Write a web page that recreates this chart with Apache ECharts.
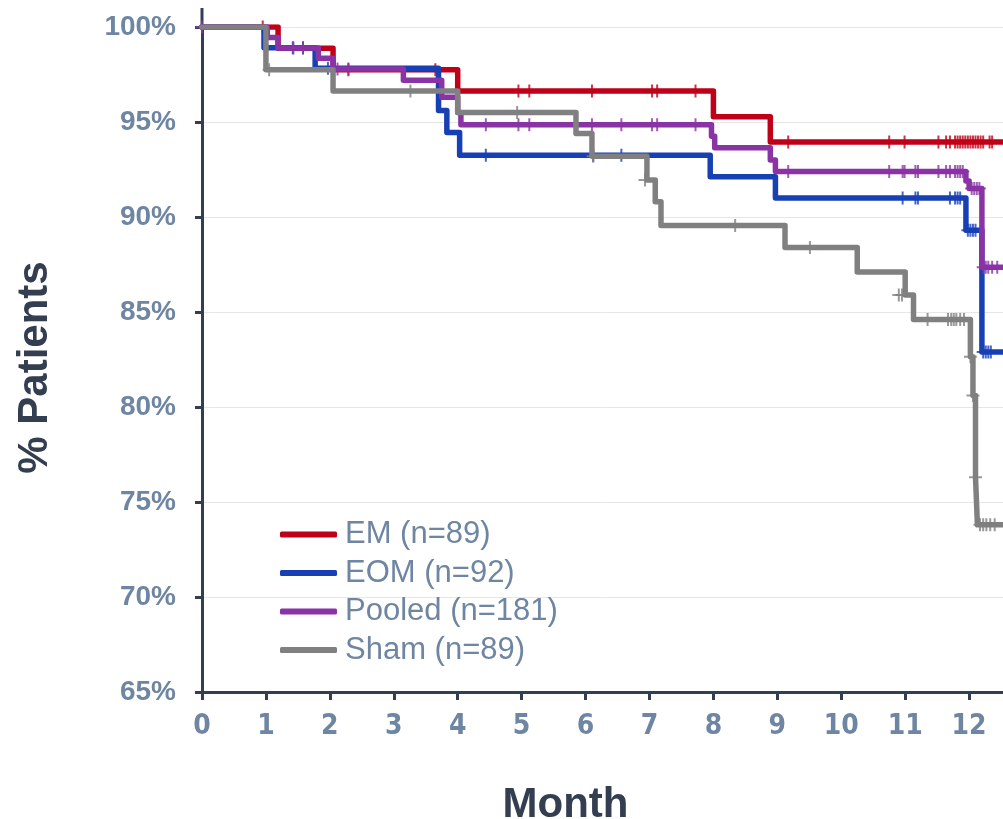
<!DOCTYPE html>
<html>
<head>
<meta charset="utf-8">
<script src="https://cdn.jsdelivr.net/npm/echarts@6/dist/echarts.min.js"></script>
<style>
  html, body { margin: 0; padding: 0; background: #fff; overflow: hidden; }
  #chart { width: 1003px; height: 819px; }
</style>
</head>
<body>
<div id="chart"></div>
<script>
// KM step points [month, % surviving]; value changes at the given month
const emSteps = [[0, 100], [1.19, 98.88], [2.05, 97.75], [4.0, 96.63], [8.0, 95.28], [8.89, 93.95], [12.53, 93.95]]
const eomSteps = [[0, 100], [0.97, 98.91], [1.77, 97.83], [3.70, 95.6], [3.83, 94.45], [4.03, 93.25], [7.95, 92.12], [8.97, 91.0], [11.95, 89.3], [12.2, 82.9], [12.53, 82.9]]
const pooledSteps = [[0, 100], [1.02, 99.45], [1.19, 98.9], [1.82, 98.35], [2.05, 97.79], [3.15, 97.2], [3.75, 96.3], [4.0, 95.5], [4.05, 94.85], [7.97, 94.25], [8.02, 93.65], [8.89, 93.0], [8.97, 92.4], [11.95, 91.9], [12.0, 91.5], [12.2, 87.35], [12.53, 87.35]]
const shamSteps = [[0, 100], [1.0, 97.75], [2.05, 96.63], [4.0, 95.5], [5.85, 94.4], [6.1, 93.2], [6.96, 91.95], [7.09, 90.8], [7.18, 89.55], [9.12, 88.4], [10.25, 87.1], [11.0, 85.9], [11.13, 84.6], [12.02, 82.65], [12.06, 80.6], [12.1, 76.3], [12.13, 73.8], [12.53, 73.8]]

// censored observations [month, level]
const emCensor = [[0.95, 100], [2.29, 97.75], [3.65, 97.75], [4.95, 96.63], [5.12, 96.63], [6.10, 96.63], [7.04, 96.63], [7.12, 96.63], [7.72, 96.63],
  [9.17, 93.95], [10.75, 93.95], [10.99, 93.95], [11.52, 93.95], [11.64, 93.95], [11.7, 93.95], [11.78, 93.95], [11.82, 93.95], [11.86, 93.95], [11.9, 93.95],
  [11.94, 93.95], [11.98, 93.95], [12.02, 93.95], [12.06, 93.95], [12.1, 93.95], [12.14, 93.95], [12.18, 93.95], [12.22, 93.95], [12.32, 93.95], [12.36, 93.95]]
const eomCensor = [[1.42, 98.91], [1.58, 98.91], [1.97, 97.83], [4.44, 93.25], [6.12, 93.25], [6.56, 93.25],
  [10.96, 91.0], [11.16, 91.0], [11.2, 91.0], [11.7, 91.0], [11.78, 91.0], [11.82, 91.0], [11.86, 91.0],
  [11.98, 89.3], [12.02, 89.3], [12.06, 89.3], [12.1, 89.3], [12.22, 82.9], [12.26, 82.9], [12.3, 82.9], [12.34, 82.9]]
const pooledCensor = [[0, 100], [1.43, 98.9], [1.58, 98.9], [2.12, 97.79], [2.29, 97.79],
  [4.44, 94.85], [4.95, 94.85], [5.12, 94.85], [6.10, 94.85], [6.56, 94.85], [7.04, 94.85], [7.12, 94.85], [7.72, 94.85],
  [9.17, 92.4], [10.75, 92.4], [10.96, 92.4], [10.99, 92.4], [11.16, 92.4], [11.2, 92.4], [11.52, 92.4], [11.64, 92.4], [11.7, 92.4],
  [11.78, 92.4], [11.82, 92.4], [11.86, 92.4], [11.9, 92.4], [12.04, 91.5], [12.08, 91.5], [12.12, 91.5], [12.16, 91.5],
  [12.22, 87.35], [12.26, 87.35], [12.3, 87.35], [12.36, 87.35], [12.44, 87.35]]
const shamCensor = [[1.05, 97.75], [3.26, 96.63], [4.93, 95.5], [6.12, 93.2], [6.93, 91.95], [8.34, 89.55], [9.51, 88.4],
  [10.9, 85.9], [10.95, 85.9], [11.35, 84.6], [11.67, 84.6], [11.72, 84.6], [11.76, 84.6], [11.8, 84.6], [11.86, 84.6], [11.92, 84.6],
  [12.02, 82.65], [12.06, 80.6], [12.1, 76.3], [12.17, 73.8], [12.22, 73.8], [12.27, 73.8], [12.33, 73.8], [12.4, 73.8]]

const seriesNames = ['EM (n=89)', 'EOM (n=92)', 'Pooled (n=181)', 'Sham (n=89)']
const seriesColors = ['#c00018', '#1740b5', '#8a33a5', '#808080']
const stepData = [emSteps, eomSteps, pooledSteps, shamSteps]
const censorData = [emCensor, eomCensor, pooledCensor, shamCensor]

const yTicks = { min: 65, max: 100, interval: 5 }
const xTicks = { min: 0, max: 12.53, interval: 1 }

const axisColor = '#333e50'
const labelColor = '#6e86a2'
const plusSymbol = 'path://M5.5,0H7.5V13H5.5Z M0,5.5H13V7.5H0Z'

const chart = echarts.init(document.getElementById('chart'), null, { renderer: 'canvas' })

const series = []
stepData.forEach((d, i) => {
  series.push({
    name: seriesNames[i],
    type: 'line',
    step: 'end',
    data: d,
    symbol: 'none',
    lineStyle: { color: seriesColors[i], width: 5.5, cap: 'round', join: 'round' },
    itemStyle: { color: seriesColors[i] },
    z: 2 + i
  })
})
censorData.forEach((d, i) => {
  series.push({
    name: seriesNames[i] + ' censored',
    type: 'scatter',
    data: d,
    symbol: plusSymbol,
    symbolSize: 13,
    itemStyle: { color: seriesColors[i] },
    z: 2 + i
  })
})

chart.setOption({
  animation: false,
  backgroundColor: '#fff',
  grid: { left: 202, right: 0, top: 27, bottom: 127, containLabel: false, outerBoundsMode: 'none' },
  legend: {
    data: seriesNames,
    orient: 'vertical',
    left: 275,
    top: 514,
    itemWidth: 57,
    itemHeight: 6,
    itemGap: 7.5,
    icon: 'roundRect',
    textStyle: {
      color: labelColor,
      fontFamily: 'Liberation Sans, Arial, sans-serif',
      fontSize: 31,
      lineHeight: 31,
      padding: [0, 0, 0, 3]
    }
  },
  xAxis: {
    type: 'value',
    min: xTicks.min,
    max: xTicks.max,
    interval: xTicks.interval,
    name: 'Month',
    nameLocation: 'middle',
    nameGap: 92,
    nameTextStyle: {
      color: axisColor,
      fontSize: 42,
      fontWeight: 'bold',
      fontFamily: 'Liberation Sans, Arial, sans-serif',
      padding: [0, 74, 0, 0]
    },
    axisLine: { onZero: false, lineStyle: { color: axisColor, width: 3 } },
    axisTick: { length: 8, lineStyle: { color: axisColor, width: 3 } },
    axisLabel: {
      color: labelColor,
      fontSize: 28,
      fontWeight: 'bold',
      fontFamily: 'Liberation Sans Narrow, DejaVu Sans Condensed, Arial Narrow, sans-serif',
      margin: 21,
      showMaxLabel: false,
      formatter: v => (Number.isInteger(v) ? String(v) : '')
    },
    splitLine: { show: false }
  },
  yAxis: {
    type: 'value',
    min: yTicks.min,
    max: yTicks.max,
    interval: yTicks.interval,
    name: '% Patients',
    nameLocation: 'middle',
    nameGap: 146,
    nameTextStyle: {
      color: axisColor,
      fontSize: 42,
      fontWeight: 'bold',
      fontFamily: 'Liberation Sans, Arial, sans-serif',
      padding: [0, 16, 0, 0]
    },
    axisLine: { show: true, lineStyle: { color: axisColor, width: 3 } },
    axisTick: { show: true, length: 7, lineStyle: { color: axisColor, width: 3 } },
    axisLabel: {
      color: labelColor,
      fontSize: 28,
      fontWeight: 'bold',
      fontFamily: 'Liberation Sans, Arial, sans-serif',
      margin: 26,
      formatter: '{value}%'
    },
    splitLine: { show: true, lineStyle: { color: '#e6e6e6', width: 1 } }
  },
  graphic: [{
    // y axis line runs a little past 100%
    type: 'line',
    shape: { x1: 202, y1: 8, x2: 202, y2: 28 },
    style: { stroke: axisColor, lineWidth: 3 },
    z: 1
  }],
  series: series
})
</script>
</body>
</html>
